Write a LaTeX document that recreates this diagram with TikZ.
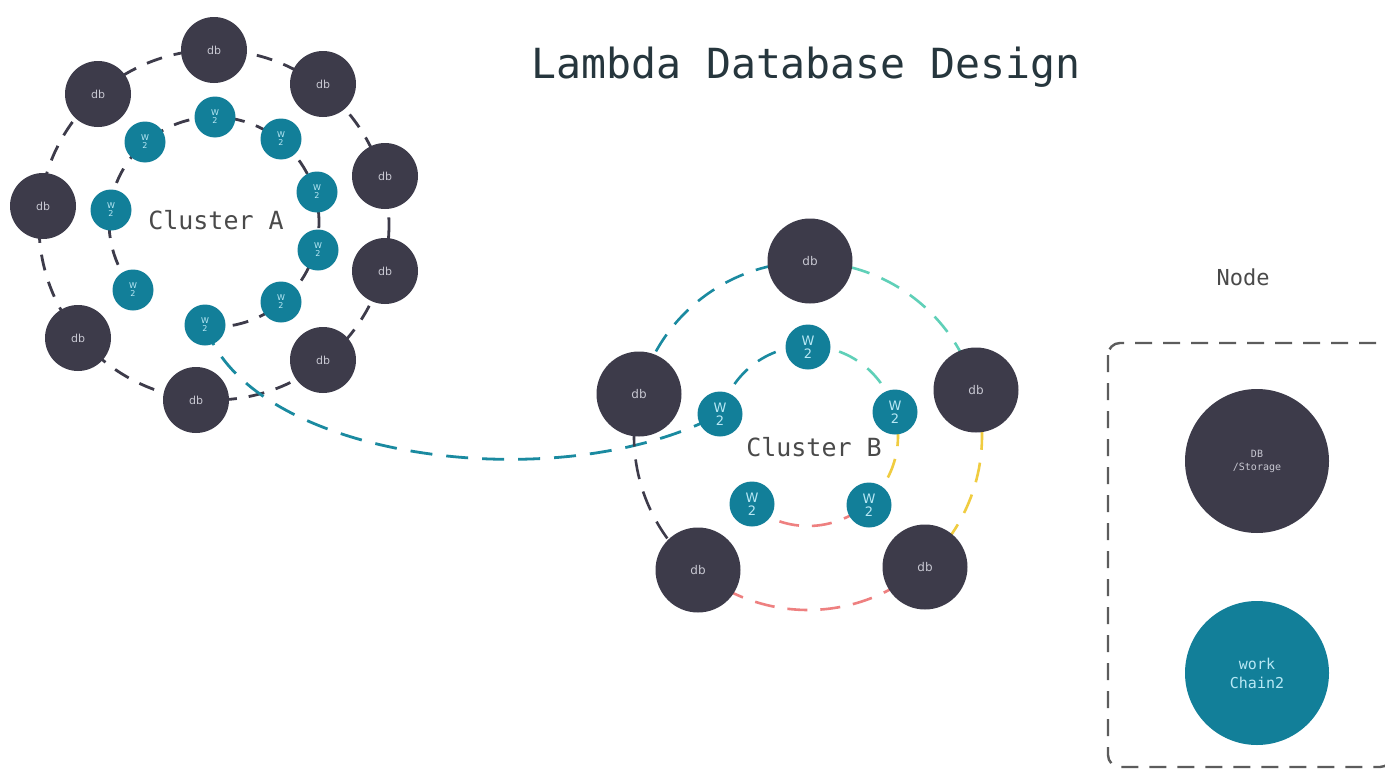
\documentclass[tikz,border=0pt]{standalone}
\usepackage{fontspec}
\setmainfont{DejaVu Sans}
\newfontfamily\monof{DejaVu Sans Mono}
\definecolor{dbc}{HTML}{3D3B4A}
\definecolor{wc}{HTML}{127F99}
\definecolor{wtext}{HTML}{B8E8F5}
\definecolor{dbtext}{HTML}{C8C8D2}
\definecolor{tealA}{HTML}{1A8AA0}
\definecolor{tealL}{HTML}{5FD0B8}
\definecolor{yel}{HTML}{F0CC40}
\definecolor{salm}{HTML}{EE8080}
\definecolor{titlec}{HTML}{26363D}
\definecolor{grayt}{HTML}{4A4A4A}
\tikzset{
  dbA/.style={circle,fill=dbc,minimum size=66pt,inner sep=0pt,text=dbtext,font=\fontsize{11}{12}\selectfont},
  wA/.style={circle,fill=wc,minimum size=41pt,inner sep=0pt,text=wtext,align=center,font=\fontsize{8}{8}\selectfont},
  dbB/.style={circle,fill=dbc,minimum size=85pt,inner sep=0pt,text=dbtext,font=\fontsize{12}{13}\selectfont},
  wB/.style={circle,fill=wc,minimum size=45pt,inner sep=0pt,text=wtext,align=center,font=\fontsize{13}{13}\selectfont},
  ringA/.style={draw=dbc,line width=2.8pt,dash pattern=on 16pt off 12pt},
  ringB/.style={line width=2.6pt,dash pattern=on 20pt off 13pt},
  lbl/.style={font=\monof\fontsize{25}{26}\selectfont,text=grayt},
}
\begin{document}
\begin{tikzpicture}[x=1pt,y=-1pt]
\useasboundingbox (0,0) rectangle (1385,771);
\clip (0,0) rectangle (1385,771);
\fill[white] (0,0) rectangle (1385,771);
% title
\node[font=\monof\fontsize{41.5}{44}\selectfont,text=titlec] (title) at (806,67) {Lambda Database Design};
% ---- Cluster A rings
\draw[ringA] (214,225) circle (175);
\draw[ringA] (214,222) ++(95:105) arc[start angle=95,end angle=-220,radius=105];
% long connector
\coordinate (cA) at (205,325);
\coordinate (cB) at (720,414);
\draw[tealA,line width=2.8pt,dash pattern=on 22pt off 14pt] (cA) .. controls (250,460) and (560,500) .. (cB);
% ---- Cluster B rings
\coordinate (oB) at (808,436);
\draw[ringB,draw=tealA] (oB) ++(-90:174) arc[start angle=-90,end angle=-166,radius=174];
\draw[ringB,draw=tealL] (oB) ++(-15:174) arc[start angle=-15,end angle=-90,radius=174];
\draw[ringB,draw=yel] (oB) ++(48:174) arc[start angle=48,end angle=-15,radius=174];
\draw[ringB,draw=salm] (oB) ++(-230.6:174) arc[start angle=-230.6,end angle=-311.8,radius=174];
\draw[ringB,draw=dbc] (oB) ++(-166:174) arc[start angle=-166,end angle=-230.6,radius=174];
\draw[ringB,draw=tealA] (oB) ++(-90:90) arc[start angle=-90,end angle=-166,radius=90];
\draw[ringB,draw=tealL] (oB) ++(-15:90) arc[start angle=-15,end angle=-90,radius=90];
\draw[ringB,draw=yel] (oB) ++(48.5:90) arc[start angle=48.5,end angle=-15,radius=90];
\draw[ringB,draw=salm] (oB) ++(-230.5:90) arc[start angle=-230.5,end angle=-311.5,radius=90];
% ---- Cluster A nodes
\node[dbA] (a1) at (214,50) {db};
\node[dbA] (a2) at (98,94) {db};
\node[dbA] (a3) at (323,84) {db};
\node[dbA] (a4) at (385,176) {db};
\node[dbA] (a5) at (43,206) {db};
\node[dbA] (a6) at (385,271) {db};
\node[dbA] (a7) at (78,338) {db};
\node[dbA] (a8) at (323,360) {db};
\node[dbA] (a9) at (196,400) {db};
\node[wA] (w1) at (215,117) {W\\2};
\node[wA] (w2) at (145,142) {W\\2};
\node[wA] (w3) at (281,139) {W\\2};
\node[wA] (w4) at (317,192) {W\\2};
\node[wA] (w5) at (111,210) {W\\2};
\node[wA] (w6) at (318,250) {W\\2};
\node[wA] (w7) at (133,290) {W\\2};
\node[wA] (w8) at (281,302) {W\\2};
\node[wA] (w9) at (205,325) {W\\2};
\node[lbl] (labA) at (216,220) {Cluster A};
% ---- Cluster B nodes
\node[dbB] (b1) at (810,261) {db};
\node[dbB] (b2) at (639,394) {db};
\node[dbB] (b3) at (976,390) {db};
\node[dbB] (b4) at (698,570) {db};
\node[dbB] (b5) at (925,567) {db};
\node[wB] (v1) at (808,347) {W\\2};
\node[wB] (v2) at (720,414) {W\\2};
\node[wB] (v3) at (895,412) {W\\2};
\node[wB] (v4) at (752,504) {W\\2};
\node[wB] (v5) at (869,505) {W\\2};
\node[lbl] (labB) at (814,447) {Cluster B};
% ---- Legend
\node[font=\monof\fontsize{22}{24}\selectfont,text=grayt] (nodet) at (1243,277) {Node};
\draw[draw=grayt!90,line width=2.4pt,dash pattern=on 17pt off 11pt,rounded corners=12pt] (1108,343) rectangle (1392,767);
\node[circle,fill=dbc,minimum size=144pt,inner sep=0pt,text=dbtext,align=center,font=\monof\fontsize{10}{13}\selectfont] (ldb) at (1257,461) {DB\\/Storage};
\node[circle,fill=wc,minimum size=144pt,inner sep=0pt,text=wtext,align=center,font=\monof\fontsize{15}{19}\selectfont] (lw) at (1257,673) {work\\Chain2};
\end{tikzpicture}
\end{document}
